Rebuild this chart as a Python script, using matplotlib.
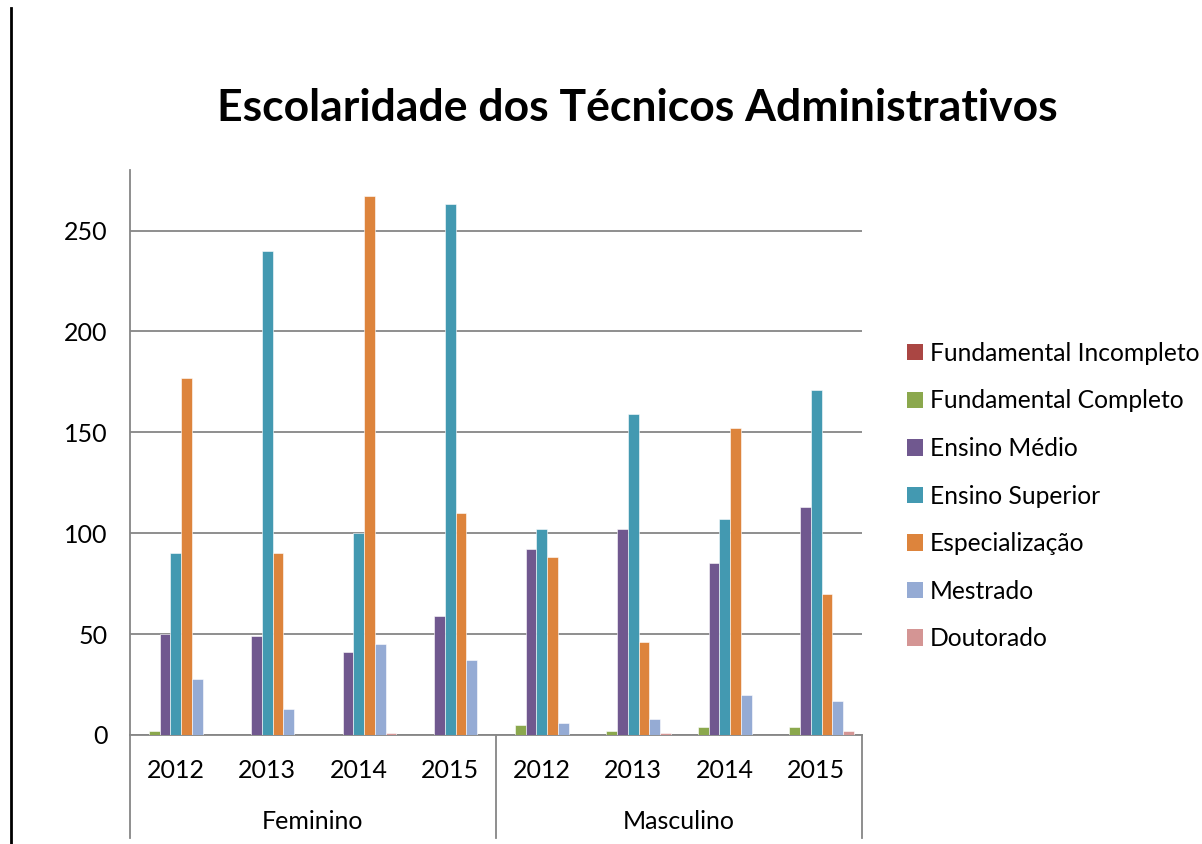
import matplotlib
matplotlib.use("Agg")
import matplotlib.pyplot as plt
from matplotlib.lines import Line2D
from matplotlib.patches import Patch
import numpy as np

groups = ["Feminino", "Masculino"]
years = ["2012", "2013", "2014", "2015"]
series = ["Fundamental Incompleto", "Fundamental Completo", "Ensino Médio",
          "Ensino Superior", "Especialização", "Mestrado", "Doutorado"]
colors = ["#AA4643", "#8BA84D", "#70588F", "#4399B1", "#DD843C", "#95ABD4", "#D49594"]

fund_incompleto = [0, 0, 0, 0, 0, 0, 0, 0]
fund_completo = [2, 0, 0, 0, 5, 2, 4, 4]
ensino_medio = [50, 49, 41, 59, 92, 102, 85, 113]
ensino_superior = [90, 240, 100, 263, 102, 159, 107, 171]
especializacao = [177, 90, 267, 110, 88, 46, 152, 70]
mestrado = [28, 13, 45, 37, 6, 8, 20, 17]
doutorado = [0, 0, 1, 0, 0, 1, 0, 2]

values = [fund_incompleto, fund_completo, ensino_medio, ensino_superior,
          especializacao, mestrado, doutorado]

W, H = 1202, 844
fig = plt.figure(figsize=(W / 100, H / 100), dpi=100)
plt.rcParams['font.family'] = ['Lato', 'DejaVu Sans']

left, right, top, bottom = 130, 862, 170, 735
ax = fig.add_axes([left / W, 1 - bottom / H, (right - left) / W, (bottom - top) / H])

n_cat = len(groups) * len(years)
n_ser = len(series)
gap = 1.5
bw = 1.0 / (n_ser + gap)
x = np.arange(n_cat)
for i, (name, vals) in enumerate(zip(series, values)):
    pos = x + gap * bw / 2 + i * bw + bw / 2
    ax.bar(pos, vals, width=bw, color=colors[i], label=name,
           edgecolor="white", linewidth=0.4, zorder=3)

ax.set_xlim(0, n_cat)
ax.set_ylim(0, 280)
ax.set_yticks([0, 50, 100, 150, 200, 250])
ax.yaxis.grid(True, color="#868686", linewidth=1.3, zorder=0)
ax.tick_params(axis="y", length=0, pad=16, labelsize=18)
ax.tick_params(axis="x", length=0, labelbottom=False)
for s in ["top", "right"]:
    ax.spines[s].set_visible(False)
ax.spines["left"].set_color("#868686")
ax.spines["left"].set_linewidth(1.3)
ax.spines["bottom"].set_color("#868686")
ax.spines["bottom"].set_linewidth(1.3)

# category labels
trans = ax.get_xaxis_transform()
for g, grp in enumerate(groups):
    for j, yr in enumerate(years):
        ax.text(g * len(years) + j + 0.5, 1 - (770 - top) / (bottom - top), yr,
                transform=trans, ha="center", va="center", fontsize=18, clip_on=False)
    ax.text(g * len(years) + len(years) / 2, 1 - (822 - top) / (bottom - top), grp,
            transform=trans, ha="center", va="center", fontsize=18, clip_on=False)

for xs in [0, len(years), n_cat]:
    ax.plot([xs, xs], [0, 1 - (838 - top) / (bottom - top)], transform=trans,
            color="#868686", linewidth=1.3, clip_on=False)

# left border line
fig.add_artist(Line2D([11 / W, 11 / W], [0, 1 - 8 / H], color="black", linewidth=2))

fig.text(637 / W, 1 - 108 / H, "Escolaridade dos Técnicos Administrativos",
         ha="center", va="center", fontsize=32, fontweight="bold")

handles = [Patch(facecolor=c, label=s) for c, s in zip(colors, series)]
leg = fig.legend(handles=handles, loc="upper left", bbox_to_anchor=(897 / W, 1 - 332 / H),
                 frameon=False, fontsize=17.7, handlelength=0.65, handleheight=0.65,
                 handletextpad=0.3, labelspacing=1.0, borderaxespad=0)

fig.savefig("out.png", dpi=100)
